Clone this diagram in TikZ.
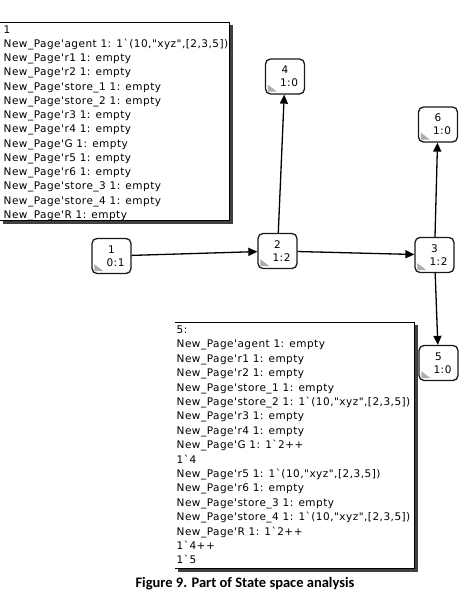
\documentclass[tikz,border=0pt]{standalone}
\usepackage{fontspec}
\setmainfont{DejaVu Sans}
\newfontfamily\boxfont{DejaVu Sans}[Ligatures=TeXOff, LetterSpace=4.6]
\newfontfamily\capfont{Carlito}
\usetikzlibrary{arrows.meta}
\tikzset{
  txt/.style={anchor=base west, inner sep=0pt, font={\boxfont\fontsize{10.5}{12.6}\selectfont}},
  state/.style={draw=black!90, line width=1.3pt, rounded corners=5pt, fill=white,
    minimum width=39pt, minimum height=35pt, inner sep=0pt, align=center,
    font={\boxfont\fontsize{10.5}{13}\selectfont}},
  edge/.style={line width=1.3pt, -{Triangle[length=9pt,width=8pt]}},
  shadowline/.style={line width=2.5pt, black!75},
  frame/.style={line width=0.8pt, black},
  corner/.style={fill=gray!65}
}
\begin{document}
\begin{tikzpicture}[x=1pt,y=-1pt]
\useasboundingbox (0,0) rectangle (466,592);
\fill[white] (0,0) rectangle (466,592);

% top-left text box
\draw[shadowline] (231.5,25) -- (231.5,222.5) -- (3,222.5);
\fill[white] (0,22) rectangle (229,220);
\draw[frame] (0,22) -- (229,22) -- (229,220) -- (0,220);
\foreach \t [count=\i from 0] in {
  {1},
  {New\_Page'agent 1: 1`(10,"xyz",[2,3,5])},
  {New\_Page'r1 1: empty},
  {New\_Page'r2 1: empty},
  {New\_Page'store\_1 1: empty},
  {New\_Page'store\_2 1: empty},
  {New\_Page'r3 1: empty},
  {New\_Page'r4 1: empty},
  {New\_Page'G 1: empty},
  {New\_Page'r5 1: empty},
  {New\_Page'r6 1: empty},
  {New\_Page'store\_3 1: empty},
  {New\_Page'store\_4 1: empty},
  {New\_Page'R 1: empty}}
  \node[txt] (a\i) at (3.5,{33+14.27*\i}) {\t};

% bottom text box
\draw[shadowline] (416.5,325) -- (416.5,570.5) -- (178,570.5);
\fill[white] (175,322) rectangle (414,568);
\draw[frame] (175,322) -- (414,322) -- (414,568) -- (175,568);
\foreach \t [count=\i from 0] in {
  {5:},
  {New\_Page'agent 1: empty},
  {New\_Page'r1 1: empty},
  {New\_Page'r2 1: empty},
  {New\_Page'store\_1 1: empty},
  {New\_Page'store\_2 1: 1`(10,"xyz",[2,3,5])},
  {New\_Page'r3 1: empty},
  {New\_Page'r4 1: empty},
  {New\_Page'G 1: 1`2++},
  {1`4},
  {New\_Page'r5 1: 1`(10,"xyz",[2,3,5])},
  {New\_Page'r6 1: empty},
  {New\_Page'store\_3 1: empty},
  {New\_Page'store\_4 1: 1`(10,"xyz",[2,3,5])},
  {New\_Page'R 1: 1`2++},
  {1`4++},
  {1`5}}
  \node[txt] (b\i) at (176.5,{333.5+14.4*\i}) {\t};

% state nodes
\node[state] (n1) at (111.5,256) {1\\\hspace*{8pt}0:1};
\node[state] (n2) at (277.5,251) {2\\\hspace*{8pt}1:2};
\node[state] (n3) at (434.5,255) {3\\\hspace*{8pt}1:2};
\node[state] (n4) at (285,76.5) {4\\\hspace*{8pt}1:0};
\node[state] (n6) at (438,124.5) {6\\\hspace*{8pt}1:0};
\node[state] (n5) at (438.5,363) {5\\\hspace*{8pt}1:0};
\foreach \n in {n1,n2,n3,n4,n5,n6}
  \fill[corner] ([shift={(3,-3)}]\n.south west) -- ++(0,-7) -- ++(9,7) -- cycle;

% connectors
\draw[edge] (n1) -- (n2);
\draw[edge] (n2) -- (n4);
\draw[edge] (n2) -- (n3);
\draw[edge] (n3) -- (n6);
\draw[edge] (n3) -- (n5);

% caption
\node[anchor=base, inner sep=0pt, font={\capfont\bfseries\fontsize{14.5}{16}\selectfont}] (cap) at (245,587.5) {Figure 9. Part of State space analysis};
\end{tikzpicture}
\end{document}
